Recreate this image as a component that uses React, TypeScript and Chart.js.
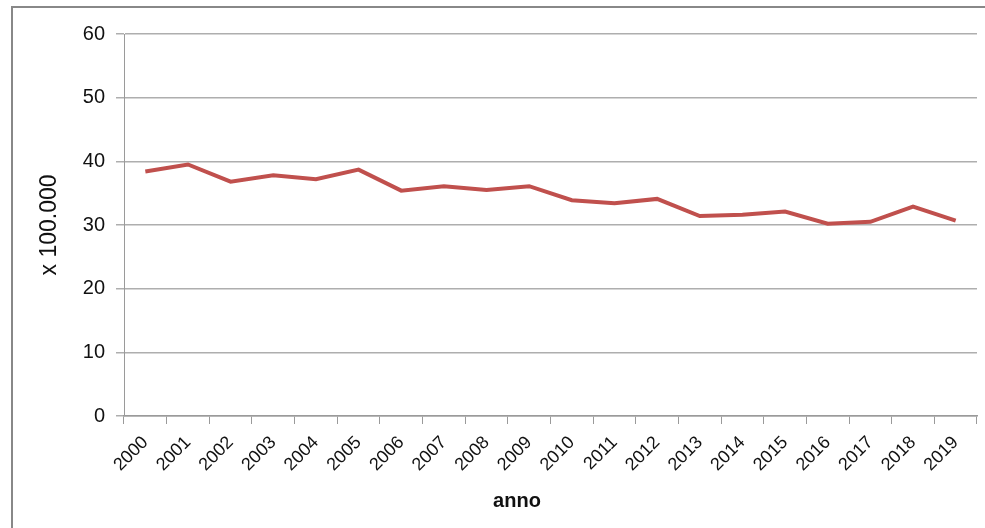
import React, { useEffect, useRef } from "react";
import { Chart, registerables } from "chart.js";

Chart.register(...registerables);

const years = [
  "2000", "2001", "2002", "2003", "2004", "2005", "2006", "2007", "2008", "2009",
  "2010", "2011", "2012", "2013", "2014", "2015", "2016", "2017", "2018", "2019",
];
const values = [
  38.4, 39.5, 36.8, 37.8, 37.2, 38.7, 35.4, 36.1, 35.5, 36.1,
  33.9, 33.4, 34.1, 31.4, 31.6, 32.1, 30.2, 30.5, 32.9, 30.7,
];
const yTitle = "x 100.000";
const xTitle = "anno";

const FONT = "'Liberation Sans', Arial, sans-serif";

const xTitlePlugin = {
  id: "xTitlePlugin",
  afterDraw(chart: any) {
    const ctx = chart.ctx;
    ctx.save();
    ctx.font = `bold 20px ${FONT}`;
    ctx.fillStyle = "#111";
    ctx.textAlign = "center";
    ctx.textBaseline = "middle";
    ctx.fillText(xTitle, 517, 501);
    ctx.restore();
  },
};

export default function App() {
  const ref = useRef<HTMLCanvasElement | null>(null);

  useEffect(() => {
    document.body.style.margin = "0";
    if (!ref.current) return;
    const chart = new Chart(ref.current, {
      type: "line",
      data: {
        labels: years,
        datasets: [
          {
            data: values,
            borderColor: "#c0504d",
            borderWidth: 4,
            pointRadius: 0,
            tension: 0,
            fill: false,
          },
        ],
      },
      plugins: [xTitlePlugin],
      options: {
        animation: false,
        responsive: true,
        maintainAspectRatio: false,
        layout: { padding: { top: 34, right: 8, bottom: 0, left: 0 } },
        plugins: {
          legend: { display: false },
          tooltip: { enabled: false },
          title: { display: false },
        },
        scales: {
          x: {
            type: "category",
            offset: true,
            afterFit(scale: any) {
              scale.height = 112;
            },
            grid: {
              display: true,
              offset: true,
              drawOnChartArea: false,
              drawTicks: true,
              tickLength: 8,
              color: "#9a9a9a",
              lineWidth: 1,
            },
            border: { display: true, color: "#9a9a9a", width: 1.5 },
            ticks: {
              autoSkip: false,
              maxRotation: 45,
              minRotation: 45,
              padding: 8,
              color: "#111",
              font: { family: FONT, size: 18 },
            },
          },
          y: {
            min: 0,
            max: 60,
            afterFit(scale: any) {
              scale.width = 124;
            },
            ticks: {
              stepSize: 10,
              padding: 11,
              color: "#111",
              font: { family: FONT, size: 20 },
            },
            grid: {
              color: "#aeaeae",
              lineWidth: 1.5,
              tickLength: 8,
            },
            border: { display: true, color: "#9a9a9a", width: 1 },
            title: {
              display: true,
              text: yTitle,
              color: "#111",
              font: { family: FONT, size: 23 },
              padding: { top: 36, bottom: 0 },
            },
          },
        },
      },
    });
    return () => chart.destroy();
  }, []);

  return (
    <div
      style={{
        position: "fixed",
        left: 0,
        top: 0,
        width: 985,
        height: 528,
        overflow: "hidden",
        background: "#fff",
      }}
    >
      <div
        style={{
          position: "absolute",
          left: 11,
          top: 6,
          width: 1100,
          height: 700,
          border: "2px solid #888",
          boxSizing: "border-box",
        }}
      />
      <div style={{ position: "absolute", left: 0, top: 0, width: 985, height: 528 }}>
        <canvas ref={ref} />
      </div>
    </div>
  );
}
